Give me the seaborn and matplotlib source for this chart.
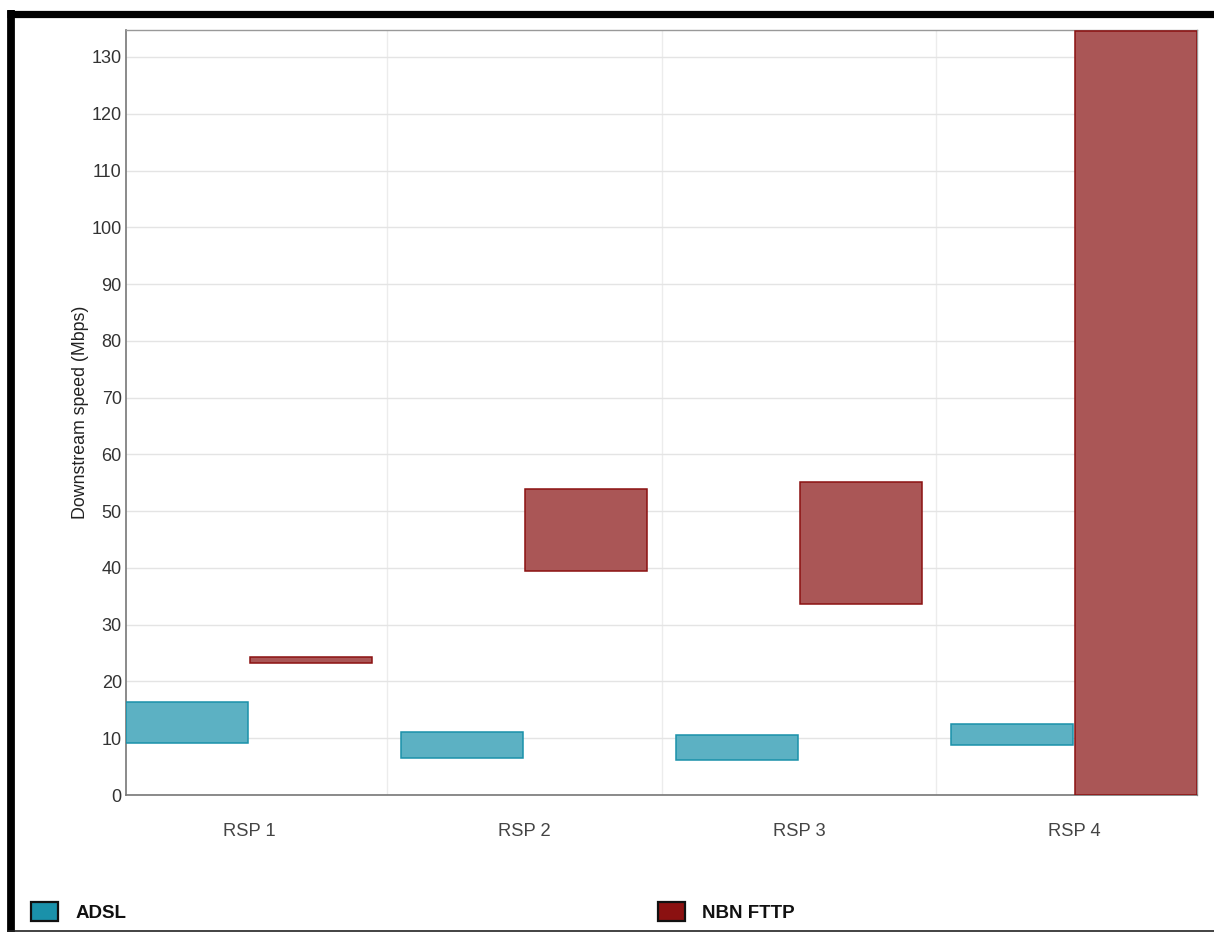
import numpy as np
import pandas as pd
import matplotlib
matplotlib.use("Agg")
import matplotlib.pyplot as plt
from matplotlib.patches import Patch
import seaborn as sns

# ---- data ----
rsps = ["RSP 1", "RSP 2", "RSP 3", "RSP 4"]
series = ["ADSL", "NBN FTTP"]
adsl_low = [9.1, 6.5, 6.2, 8.8]
adsl_high = [16.4, 11.1, 10.6, 12.5]
nbn_low = [23.2, 39.5, 33.6, 0.0]
nbn_high = [24.3, 53.9, 55.1, 134.6]
yticks = list(range(0, 131, 10))

colors = {"ADSL": "#1a91aa", "NBN FTTP": "#8b1111"}
fills = {"ADSL": "#5cb1c3", "NBN FTTP": "#aa5656"}

sns.set_theme(style="white")
plt.rcParams["font.family"] = ["Liberation Sans", "DejaVu Sans"]

fig = plt.figure(figsize=(12.14, 9.32), dpi=100)
ax = fig.add_axes([126 / 1214, 1 - 795 / 932, (1197 - 126) / 1214, (795 - 30) / 932])

df = pd.DataFrame({
    "rsp": rsps * 2,
    "series": ["ADSL"] * 4 + ["NBN FTTP"] * 4,
    "low": adsl_low + nbn_low,
    "high": adsl_high + nbn_high,
})

bw = 0.444
offsets = {"ADSL": -bw / 2 - 0.004, "NBN FTTP": bw / 2 + 0.004}
xpos = np.arange(len(rsps))
for s in series:
    d = df[df["series"] == s]
    ax.bar(xpos + offsets[s], d["high"].values - d["low"].values, bottom=d["low"].values,
           width=bw, color=fills[s], edgecolor=colors[s], linewidth=1.1, zorder=3)

ax.set_xlim(-0.448, 3.448)
ax.set_ylim(0, 134.75)
ax.set_yticks(yticks)
ax.set_yticklabels([str(t) for t in yticks], fontsize=13, color="#333333")
ax.set_xticks(xpos)
ax.set_xticklabels(rsps, fontsize=13.2, color="#444444")
ax.set_xticks([0.5, 1.5, 2.5], minor=True)
ax.tick_params(axis="y", which="both", length=0, pad=3)
ax.tick_params(axis="x", which="both", length=0, pad=20)
ax.grid(axis="y", which="major", color="#e4e4e4", linewidth=1, zorder=0)
ax.grid(axis="x", which="minor", color="#ececec", linewidth=1, zorder=0)
ax.grid(axis="x", which="major", visible=False)
ax.set_axisbelow(True)
ax.set_ylabel("Downstream speed (Mbps)", fontsize=12.8, color="#222222", labelpad=2)
ax.set_xlabel("")
for side in ["left", "bottom"]:
    ax.spines[side].set_color("#777777")
    ax.spines[side].set_linewidth(1.2)
for side in ["top", "right"]:
    ax.spines[side].set_color("#999999")
    ax.spines[side].set_linewidth(1.0)

handles = [Patch(facecolor=colors[s], edgecolor="#111111", linewidth=1.6, label=s) for s in series]
leg = fig.legend(handles=handles, loc="center left", bbox_to_anchor=(14 / 1214, 1 - 912 / 932),
                 ncol=2, frameon=False, handlelength=1.45, handleheight=1.2, handletextpad=0.95,
                 columnspacing=28.3, prop={"weight": "bold", "size": 13.5})
for t in leg.get_texts():
    t.set_color("#111111")

# outer frame
fig.add_artist(plt.Line2D([7 / 1214, 1], [1 - 13.5 / 932] * 2, color="black", linewidth=5.2,
                          transform=fig.transFigure, solid_capstyle="butt"))
fig.add_artist(plt.Line2D([11 / 1214] * 2, [0, 1 - 10 / 932], color="black", linewidth=5.6,
                          transform=fig.transFigure, solid_capstyle="butt"))
fig.add_artist(plt.Line2D([7 / 1214, 1], [1 - 930.5 / 932] * 2, color="#222222", linewidth=1.2,
                          transform=fig.transFigure, solid_capstyle="butt"))

fig.savefig("out.png", dpi=100, facecolor="white")
